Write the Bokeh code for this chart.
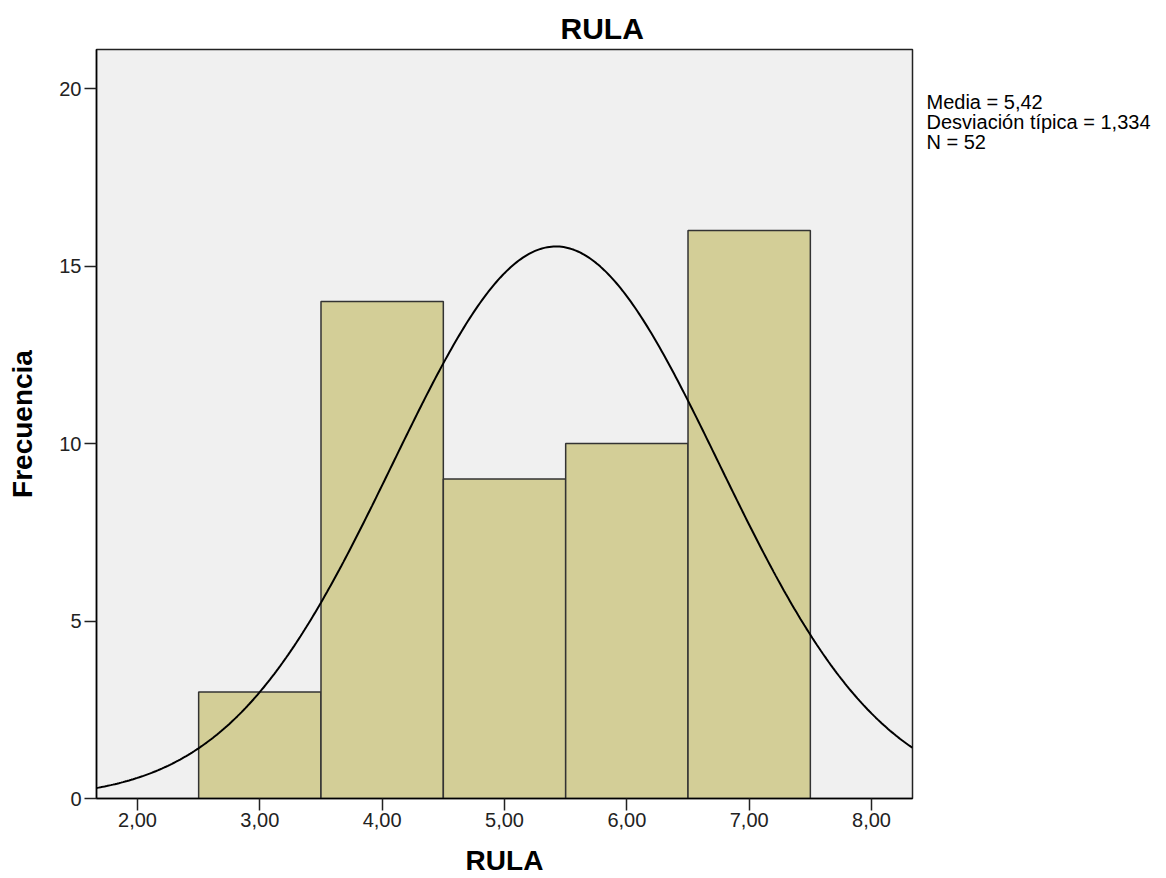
import math
from bokeh.plotting import figure
from bokeh.layouts import row
from bokeh.models import Label, FixedTicker, Range1d, Title
from bokeh.embed import file_html
from bokeh.resources import INLINE

# Data
bin_left = [2.5, 3.5, 4.5, 5.5, 6.5]
bin_right = [3.5, 4.5, 5.5, 6.5, 7.5]
counts = [3, 14, 9, 10, 16]
mean_val = 5.42
std_val = 1.334
n_val = 52
x_ticks = [2, 3, 4, 5, 6, 7, 8]
x_tick_labels = ["2,00", "3,00", "4,00", "5,00", "6,00", "7,00", "8,00"]
y_ticks = [0, 5, 10, 15, 20]
stats_lines = ["Media = 5,42", "Desviación típica = 1,334", "N = 52"]

FONT = "Liberation Sans"
x0, x1 = 1.665, 8.335
y0, y1 = 0.0, 21.1

W, H = 1166, 878
W1 = 918
TOP, BOTTOM = 49, 798
p = figure(width=W1, height=H, output_backend="svg", toolbar_location=None,
           x_range=Range1d(x0, x1), y_range=Range1d(y0, y1),
           min_border_left=96, min_border_right=W1 - 912, min_border_top=TOP, min_border_bottom=H - BOTTOM)
p.background_fill_color = "#f0f0f0"
p.border_fill_color = "white"
p.outline_line_color = "#222222"
p.outline_line_width = 1.5
p.grid.visible = False

p.title = Title(text="RULA", align="left", offset=464, standoff=10,
                text_font=FONT, text_font_size="30px", text_font_style="bold", text_color="#000000")

p.quad(left=bin_left, right=bin_right, bottom=0, top=counts,
       fill_color="#d3ce97", line_color="#333333", line_width=1.5)

# fitted normal curve from the stated mean / sd / N (bin width 1)
xs = [x0 + (x1 - x0) * i / 400 for i in range(401)]
ys = [n_val * 1.0 / (std_val * math.sqrt(2 * math.pi)) * math.exp(-0.5 * ((x - mean_val) / std_val) ** 2) for x in xs]
p.line(xs, ys, line_color="#000000", line_width=2)

p.xaxis.ticker = FixedTicker(ticks=x_ticks)
p.xaxis.major_label_overrides = {t: l for t, l in zip(x_ticks, x_tick_labels)}
p.yaxis.ticker = FixedTicker(ticks=y_ticks)
for ax in (p.xaxis, p.yaxis):
    ax.major_tick_in = 0
    ax.major_tick_out = 12
    ax.minor_tick_line_color = None
    ax.axis_line_color = "#000000"
    ax.axis_line_width = 1.5
    ax.major_tick_line_color = "#222222"
    ax.major_tick_line_width = 1.5
    ax.major_label_text_font = FONT
    ax.major_label_text_font_size = "20px"
    ax.major_label_text_color = "#222222"
    ax.axis_label_text_font = FONT
    ax.axis_label_text_font_size = "28px"
    ax.axis_label_text_font_style = "bold"
    ax.axis_label_text_color = "#000000"
p.xaxis.axis_label = "RULA"
p.yaxis.axis_label = "Frecuencia"
p.xaxis.axis_label_standoff = 15
p.yaxis.axis_label_standoff = 18
p.xaxis.major_label_standoff = 2
p.yaxis.major_label_standoff = 3

# side panel with the summary statistics (its frame spans the same rows as the main frame,
# and its y range is set so that one unit is one pixel, measured from the top of the page)
W2 = W - W1
s = figure(width=W2, height=H, output_backend="svg", toolbar_location=None,
           x_axis_location=None, y_axis_location=None,
           x_range=Range1d(0, W2), y_range=Range1d(BOTTOM, TOP),
           min_border_left=0, min_border_right=0, min_border_top=TOP, min_border_bottom=H - BOTTOM)
s.grid.visible = False
s.outline_line_color = None
s.background_fill_color = "white"
s.border_fill_color = "white"
for i, t in enumerate(stats_lines):
    s.add_layout(Label(x=8, y=101 + i * 20.3, text=t, text_font=FONT, text_font_size="20px",
                       text_align="left", text_baseline="middle", text_color="#000000"))

layout = row(p, s, spacing=0)
open("out.html", "w").write(file_html(layout, INLINE))
